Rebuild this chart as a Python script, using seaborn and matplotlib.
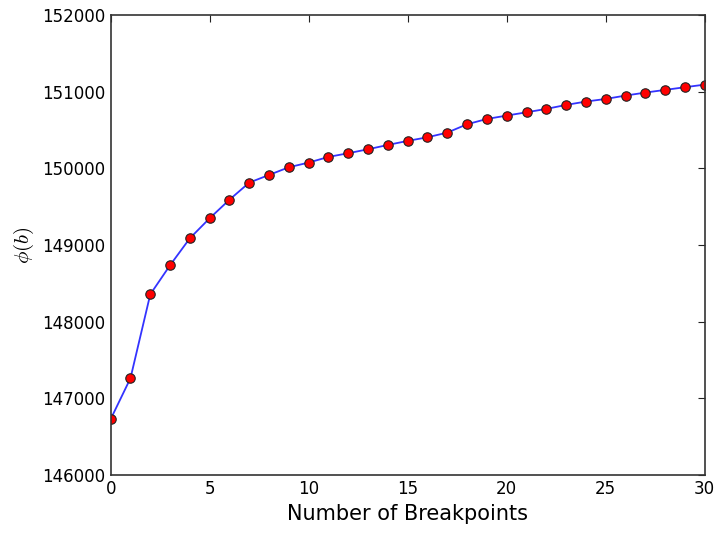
import matplotlib
matplotlib.use("Agg")
import matplotlib.pyplot as plt
import seaborn as sns
import pandas as pd

breakpoints = list(range(31))
phi_values = [146727, 147261, 148355, 148735, 149087, 149348, 149590, 149813,
              149913, 150013, 150074, 150148, 150196, 150248, 150304, 150357,
              150404, 150465, 150574, 150643, 150687, 150730, 150774, 150826,
              150870, 150904, 150948, 150987, 151022, 151057, 151091]

df = pd.DataFrame({"b": breakpoints, "phi": phi_values})

sns.set_style("white")
plt.rcParams['font.family'] = ['DejaVu Sans']
plt.rcParams['mathtext.fontset'] = 'cm'

fig = plt.figure(figsize=(7.14, 5.33), dpi=100)
ax = fig.add_axes([0.155, 0.109, 0.832, 0.863])

sns.lineplot(data=df, x="b", y="phi", ax=ax, color="#3333ff", linewidth=1.3,
             marker="o", markersize=6.8, markerfacecolor="red",
             markeredgecolor="#222222", markeredgewidth=0.8)
for ln in ax.lines:
    ln.set_clip_on(True)

ax.set_xlim(0, 30)
ax.set_ylim(146000, 152000)
ax.set_xticks([0, 5, 10, 15, 20, 25, 30])
ax.set_yticks([146000, 147000, 148000, 149000, 150000, 151000, 152000])
ax.tick_params(direction="in", length=5, width=0.8, top=True, right=True,
               labelsize=12, colors="#222222", labelcolor="black", pad=4)
for s in ax.spines.values():
    s.set_color("#333333")
    s.set_linewidth(1.2)
ax.set_xlabel("Number of Breakpoints", fontsize=15, color="black")
ax.set_ylabel(r"$\phi(b)$", fontsize=15, color="black")

fig.savefig("out.png", dpi=100)
